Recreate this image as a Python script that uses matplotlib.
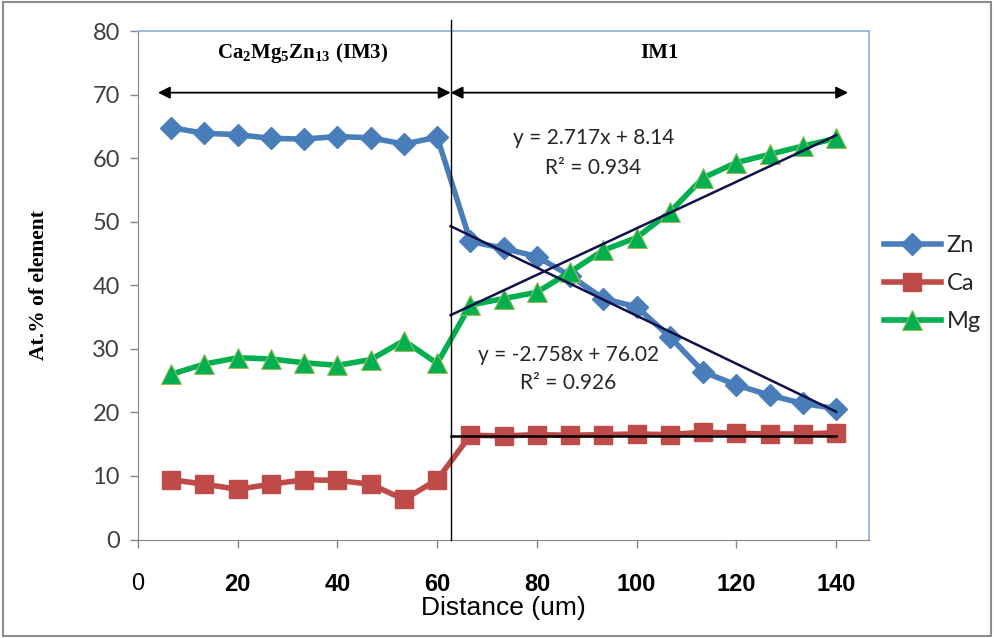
import numpy as np
import matplotlib.pyplot as plt
from matplotlib.patches import Rectangle

serif = 'Liberation Serif'
plt.rcParams['mathtext.fontset'] = 'custom'
plt.rcParams['mathtext.rm'] = serif
plt.rcParams['mathtext.bf'] = serif + ':bold'

# distance along the line scan (um), 21 points
dist = np.arange(1, 22) * 20 / 3

zn = [64.8, 63.9, 63.7, 63.1, 63.0, 63.4, 63.2, 62.2, 63.3,
      46.9, 45.8, 44.5, 41.5, 37.9, 36.6, 31.9, 26.4, 24.3, 22.7, 21.4, 20.6]
ca = [9.4, 8.7, 7.9, 8.7, 9.4, 9.3, 8.7, 6.3, 9.4,
      16.4, 16.3, 16.5, 16.4, 16.5, 16.6, 16.5, 16.9, 16.7, 16.6, 16.6, 16.8]
mg = [26.0, 27.6, 28.6, 28.4, 27.8, 27.4, 28.3, 31.3, 27.7,
      36.9, 37.9, 38.9, 42.1, 45.5, 47.5, 51.5, 56.9, 59.3, 60.6, 61.9, 63.1]

# hand-drawn trend lines in the IM1 zone
fit_x = [62.7, 140.0]
zn_fit = [49.3, 20.1]
mg_fit = [35.3, 63.6]
ca_fit = [16.3, 16.3]

boundary = 62.7
xticks = [0, 20, 40, 60, 80, 100, 120, 140]
yticks = [0, 10, 20, 30, 40, 50, 60, 70, 80]

c_zn = '#4A7EBB'
c_ca = '#BE4B48'
c_mg = '#00B050'
c_fit = '#10104A'

fig = plt.figure(figsize=(9.94, 6.38), dpi=100)
ax = fig.add_axes([138/994, 1 - 539.5/638, (869-138)/994, (539.5-31)/638])

ax.plot(dist, zn, color=c_zn, lw=4, marker='D', ms=11, mfc=c_zn, mec=c_zn, label='Zn', zorder=3)
ax.plot(dist, ca, color=c_ca, lw=4, marker='s', ms=13, mfc=c_ca, mec=c_ca, label='Ca', zorder=3)
ax.plot(dist, mg, color=c_mg, lw=4, marker='^', ms=14, mfc=c_mg, mec='#9BBB59', mew=0.8, label='Mg', zorder=3)

ax.plot(fit_x, zn_fit, color=c_fit, lw=1.8, zorder=4)
ax.plot(fit_x, mg_fit, color=c_fit, lw=1.8, zorder=4)
ax.plot(fit_x, ca_fit, color='black', lw=1.8, zorder=4)

ax.plot([boundary, boundary], [0, 81.8], color='black', lw=1, clip_on=False, zorder=4)

ax.annotate('', xy=(4.0, 70.3), xytext=(boundary, 70.3),
            arrowprops=dict(arrowstyle='<|-|>', color='black', lw=1.3, mutation_scale=18, shrinkA=0, shrinkB=0))
ax.annotate('', xy=(boundary, 70.3), xytext=(142.4, 70.3),
            arrowprops=dict(arrowstyle='<|-|>', color='black', lw=1.3, mutation_scale=18, shrinkA=0, shrinkB=0))

ax.text(33.0, 76.5, r'Ca$_\mathbf{2}$Mg$_\mathbf{5}$Zn$_\mathbf{13}$ (IM3)', ha='center', va='center',
        fontsize=15, fontweight='bold', family=serif)
ax.text(104.5, 76.5, 'IM1', ha='center', va='center', fontsize=15, fontweight='bold', family=serif)

eq_font = dict(fontsize=15, family='Lato', color='#262626', ha='center', va='center')
ax.text(91.3, 63.1, 'y = 2.717x + 8.14', **eq_font)
ax.text(91.3, 58.5, 'R² = 0.934', **eq_font)
ax.text(86.3, 29.0, 'y = -2.758x + 76.02', **eq_font)
ax.text(86.3, 24.6, 'R² = 0.926', **eq_font)

ax.set_xlim(0, 146.6)
ax.set_ylim(0, 80)
ax.set_xticks(xticks)
ax.set_yticks(yticks)
ax.set_xticklabels([str(t) for t in xticks], family='Liberation Sans', fontsize=17)
for lab in ax.get_xticklabels()[1:]:
    lab.set_fontweight('bold')
ax.set_yticklabels([str(t) for t in yticks], family='Lato', fontsize=17, color='#404040')
ax.tick_params(axis='both', direction='out', length=6, width=1, color='#868686')
ax.tick_params(axis='x', pad=18)
ax.tick_params(axis='y', pad=7)

for side in ['left', 'bottom']:
    ax.spines[side].set_color('#868686')
for side in ['top', 'right']:
    ax.spines[side].set_color('#95B3D7')
    ax.spines[side].set_linewidth(1.3)

ax.set_xlabel('Distance (um)', family='Liberation Sans', fontsize=19, labelpad=0)
ax.set_ylabel('At.% of element', family=serif, fontweight='bold', fontsize=15.5)
ax.yaxis.set_label_coords(-0.122, 0.5)

leg = ax.legend(loc='center left', bbox_to_anchor=(884/994, 1 - 284/638), bbox_transform=fig.transFigure,
                frameon=False, handlelength=2.4, labelspacing=0.72, handletextpad=0.25,
                borderpad=0, borderaxespad=0, prop=dict(family='Lato', size=17))
for t in leg.get_texts():
    t.set_color('#262626')

fig.patches.append(Rectangle((3/994, 2/638), 988/994, 634/638, transform=fig.transFigure,
                             fill=False, edgecolor='#8C8C8C', lw=1.5))

fig.savefig('out.png', dpi=100)
